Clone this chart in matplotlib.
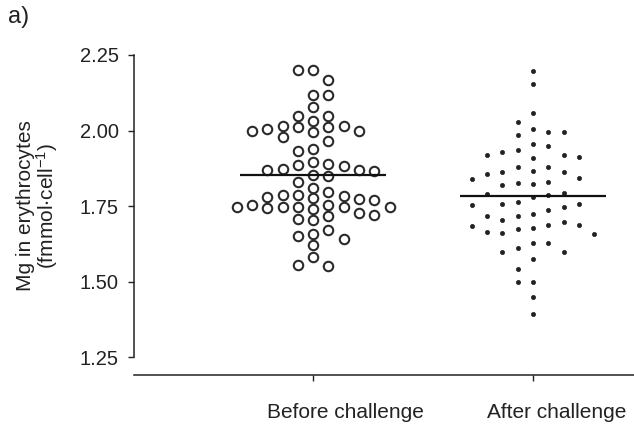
import matplotlib.pyplot as plt
import numpy as np
from matplotlib.transforms import ScaledTranslation

plt.rcParams['font.family'] = ['Liberation Sans', 'DejaVu Sans']
plt.rcParams['mathtext.fontset'] = 'custom'
plt.rcParams['mathtext.rm'] = 'Liberation Sans'
plt.rcParams['mathtext.default'] = 'regular'

groups = ["Before challenge", "After challenge"]

# Mg in erythrocytes (fmol/cell)
before = [2.200, 2.200, 2.167, 2.118, 2.118, 2.079, 2.047, 2.047,
          2.014, 2.011, 2.006, 1.998, 1.996, 2.000, 2.011, 2.014, 2.031,
          1.978, 1.964, 1.940, 1.931,
          1.869, 1.867, 1.886, 1.889, 1.897, 1.872, 1.869, 1.882,
          1.849, 1.830, 1.852,
          1.797, 1.811,
          1.775, 1.772, 1.770, 1.779, 1.786, 1.783, 1.786,
          1.748, 1.742, 1.739, 1.748, 1.753, 1.748, 1.748, 1.746, 1.753,
          1.720, 1.717, 1.704, 1.706, 1.726,
          1.658, 1.642, 1.622, 1.652, 1.671,
          1.582, 1.552, 1.555]

after = [2.198, 2.153, 2.059, 2.027, 1.994, 1.985, 1.994, 2.005,
         1.954, 1.928, 1.919, 1.913, 1.910, 1.919, 1.935, 1.950,
         1.880, 1.866, 1.862, 1.839, 1.855, 1.862, 1.878, 1.844,
         1.825, 1.822, 1.820, 1.829,
         1.779, 1.790, 1.786, 1.792,
         1.757, 1.753, 1.737, 1.746, 1.757, 1.764,
         1.717, 1.698, 1.687, 1.660, 1.687, 1.657, 1.676, 1.684,
         1.704, 1.663, 1.717, 1.673, 1.723,
         1.627, 1.628, 1.599, 1.610, 1.599, 1.575, 1.541,
         1.497, 1.497, 1.448, 1.392]

yticks = [1.25, 1.50, 1.75, 2.00, 2.25]


# dot-plot layout: going down from the top value, each point takes the
# free column closest to the middle (free = nothing within `gap` above it)
def swarm(vals, gap, step):
    vals = np.asarray(vals)
    taken = {}
    offsets = np.zeros(len(vals))
    for n, i in enumerate(np.argsort(-vals, kind='stable')):
        v = vals[i]
        side = (-1, 1) if n % 2 else (1, -1)
        order = [0] + [s * k for k in range(1, 30) for s in side]
        for c in order:
            if all(abs(v - u) >= gap for u in taken.get(c, [])):
                break
        taken.setdefault(c, []).append(v)
        offsets[i] = c * step
    return offsets


fig = plt.figure(figsize=(6.34, 4.29), dpi=100)
ax = fig.add_axes([0.2114, 0.1678, 0.7886, 0.704])

step = 0.0695
xb = 0 + swarm(before, 0.035, step)
xa = 1 + swarm(after, 0.042, step)

ax.plot(xb, before, 'o', ms=6.8, mfc='white', mec='#2a2a2a', mew=1.5,
        clip_on=False)
ax.plot(xa, after, 'o', ms=3.0, mfc='#222222', mec='#222222', mew=0.5,
        clip_on=False)

for pos, vals in zip([0, 1], [before, after]):
    ax.hlines(np.mean(vals), pos - 0.33, pos + 0.33, color='#111111', lw=1.6)

ax.set_xlim(-0.814, 1.459)
ax.set_ylim(1.25, 2.25)
ax.set_yticks(yticks)
ax.set_yticklabels([f"{t:.2f}" for t in yticks])
ax.set_xticks([0, 1])
ax.set_xticklabels(groups)

for s in ['top', 'right']:
    ax.spines[s].set_visible(False)
ax.spines['bottom'].set_position(('outward', 13))
for s in ['left', 'bottom']:
    ax.spines[s].set_linewidth(1.1)
    ax.spines[s].set_color('#222222')

ax.tick_params(axis='y', direction='out', length=4, width=1.0, pad=7,
               labelsize=14.5, colors='#222222')
ax.tick_params(axis='x', direction='out', length=4, width=1.0, pad=16,
               labelsize=15, colors='#222222')

for lab, dx in zip(ax.get_xticklabels(), [0.32, 0.24]):
    lab.set_transform(lab.get_transform() + ScaledTranslation(dx, 0, fig.dpi_scale_trans))

ax.set_ylabel("Mg in erythrocytes\n(fmmol$\\cdot$cell$^{-1}$)", fontsize=15,
              linespacing=0.95, color='#222222')
ax.yaxis.set_label_coords(-0.148, 0.5)

fig.text(0.012, 0.985, "a)", fontsize=17, va='top', ha='left', color='#222222')

fig.savefig("out.png", dpi=100)
